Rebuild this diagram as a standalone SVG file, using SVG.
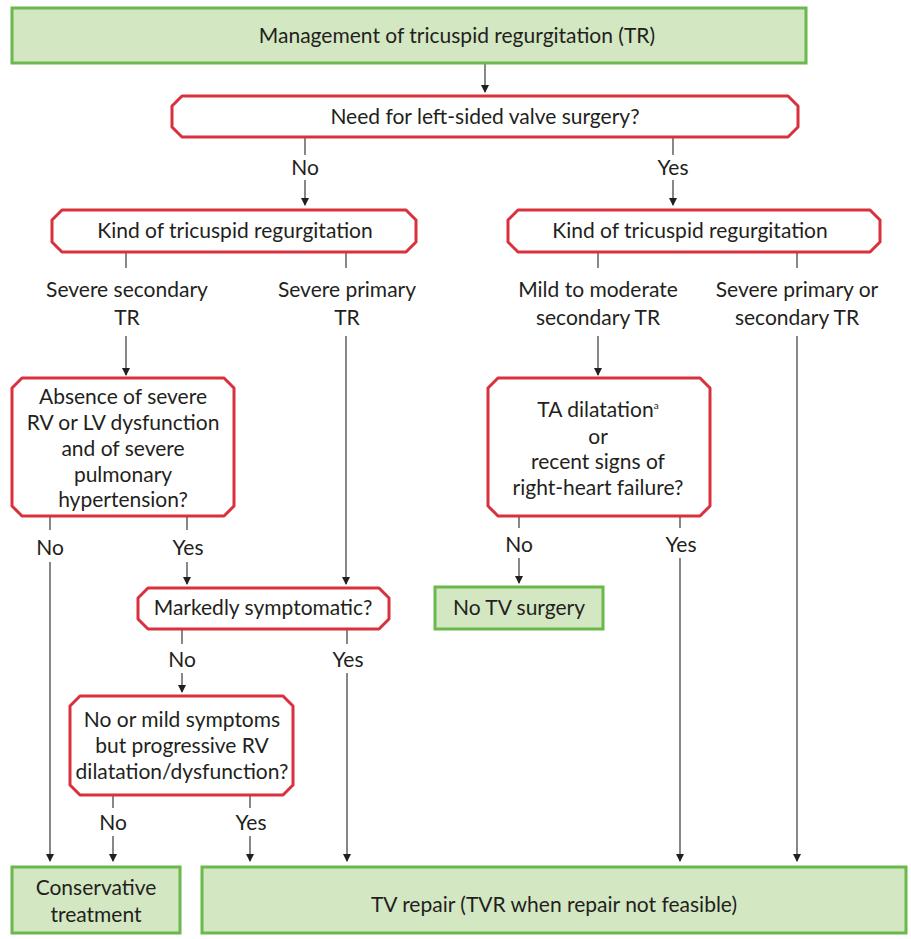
<svg xmlns="http://www.w3.org/2000/svg" width="911" height="939" viewBox="0 0 911 939">
<defs>
<marker id="ah" markerWidth="8" markerHeight="10" refX="7" refY="4" orient="auto" markerUnits="userSpaceOnUse" viewBox="0 0 8 8">
<path d="M0,0 L8,4 L0,8 Z" fill="#231f20"/>
</marker>
<style>
.g{fill:#d3e7c2;stroke:#6bb84c;stroke-width:3}
.r{fill:#fff;stroke:#d9303e;stroke-width:3;stroke-linejoin:round}
.t{font-family:Lato,"Open Sans",sans-serif;font-size:21px;fill:#231f20;text-anchor:middle}
.l{stroke:#555;stroke-width:1.4;fill:none}
.a{stroke:#555;stroke-width:1.4;fill:none;marker-end:url(#ah)}
</style>
</defs>
<rect width="911" height="939" fill="#fff"/>

<g id="connectors">
<line class="a" x1="485" y1="63" x2="485" y2="92"/>
<line class="l" x1="305" y1="138" x2="305" y2="155"/>
<line class="a" x1="305" y1="180" x2="305" y2="205"/>
<line class="l" x1="673" y1="138" x2="673" y2="155"/>
<line class="a" x1="673" y1="180" x2="673" y2="205"/>
<line class="l" x1="126" y1="252" x2="126" y2="268"/>
<line class="l" x1="346" y1="252" x2="346" y2="268"/>
<line class="l" x1="598" y1="252" x2="598" y2="268"/>
<line class="l" x1="797" y1="252" x2="797" y2="268"/>
<line class="a" x1="126" y1="336" x2="126" y2="375"/>
<line class="a" x1="346" y1="336" x2="346" y2="584"/>
<line class="a" x1="598" y1="336" x2="598" y2="375"/>
<line class="a" x1="797" y1="336" x2="797" y2="861"/>
<line class="l" x1="50" y1="517" x2="50" y2="530"/>
<line class="a" x1="50" y1="562" x2="50" y2="861"/>
<line class="l" x1="187" y1="517" x2="187" y2="530"/>
<line class="a" x1="187" y1="562" x2="187" y2="584"/>
<line class="l" x1="519" y1="517" x2="519" y2="528"/>
<line class="a" x1="519" y1="558" x2="519" y2="583"/>
<line class="l" x1="680" y1="517" x2="680" y2="528"/>
<line class="a" x1="680" y1="558" x2="680" y2="861"/>
<line class="l" x1="182" y1="630" x2="182" y2="644"/>
<line class="a" x1="182" y1="673" x2="182" y2="692"/>
<line class="l" x1="347" y1="630" x2="347" y2="644"/>
<line class="a" x1="347" y1="673" x2="347" y2="861"/>
<line class="l" x1="113" y1="796" x2="113" y2="808"/>
<line class="a" x1="113" y1="836" x2="113" y2="861"/>
<line class="l" x1="250" y1="796" x2="250" y2="808"/>
<line class="a" x1="250" y1="836" x2="250" y2="861"/>
<text class="t" x="305" y="175">No</text>
<text class="t" x="673" y="175">Yes</text>
<text class="t" x="50" y="555">No</text>
<text class="t" x="188" y="555">Yes</text>
<text class="t" x="519" y="552">No</text>
<text class="t" x="681" y="552">Yes</text>
<text class="t" x="182" y="667">No</text>
<text class="t" x="348" y="667">Yes</text>
<text class="t" x="113" y="830">No</text>
<text class="t" x="251" y="830">Yes</text>
<text class="t" x="127" y="297">Severe secondary</text>
<text class="t" x="127" y="325">TR</text>
<text class="t" x="347" y="297">Severe primary</text>
<text class="t" x="347" y="325">TR</text>
<text class="t" x="598" y="297">Mild to moderate</text>
<text class="t" x="598" y="325">secondary TR</text>
<text class="t" x="797" y="297">Severe primary or</text>
<text class="t" x="797" y="325">secondary TR</text>
</g>

<g id="n-start">
<rect class="g" x="12" y="8" width="794" height="55"/>
<text class="t" x="457" y="43">Management of tricuspid regurgitation (TR)</text>
</g>

<g id="n-need">
<polygon class="r" points="182,96 788,96 798,106 798,127 788,137 182,137 172,127 172,106"/>
<text class="t" x="485" y="124">Need for left-sided valve surgery?</text>
</g>

<g id="n-kind-left">
<polygon class="r" points="62,210 406,210 416,220 416,242 406,252 62,252 52,242 52,220"/>
<text class="t" x="235" y="238">Kind of tricuspid regurgitation</text>
</g>

<g id="n-kind-right">
<polygon class="r" points="518,210 870,210 880,220 880,242 870,252 518,252 508,242 508,220"/>
<text class="t" x="690" y="238">Kind of tricuspid regurgitation</text>
</g>

<g id="n-absence">
<polygon class="r" points="22,378 224,378 234,388 234,506 224,516 22,516 12,506 12,388"/>
<text class="t" x="123" y="404">Absence of severe</text>
<text class="t" x="123" y="430">RV or LV dysfunction</text>
<text class="t" x="123" y="456">and of severe</text>
<text class="t" x="123" y="482">pulmonary</text>
<text class="t" x="123" y="507">hypertension?</text>
</g>

<g id="n-ta">
<polygon class="r" points="498,378 700,378 710,388 710,506 700,516 498,516 488,506 488,388"/>
<text class="t" x="598" y="417">TA dilatation<tspan font-size="10" dy="-8">a</tspan></text>
<text class="t" x="598" y="444">or</text>
<text class="t" x="598" y="469">recent signs of</text>
<text class="t" x="598" y="495">right-heart failure?</text>
</g>

<g id="n-marked">
<polygon class="r" points="148,588 379,588 389,598 389,619 379,629 148,629 138,619 138,598"/>
<text class="t" x="263" y="615">Markedly symptomatic?</text>
</g>

<g id="n-notv">
<rect class="g" x="435" y="587" width="168" height="42"/>
<text class="t" x="519" y="615">No TV surgery</text>
</g>

<g id="n-mild">
<polygon class="r" points="80,696 283,696 293,706 293,785 283,795 80,795 70,785 70,706"/>
<text class="t" x="182" y="727">No or mild symptoms</text>
<text class="t" x="182" y="753">but progressive RV</text>
<text class="t" x="182" y="779">dilatation/dysfunction?</text>
</g>

<g id="n-conservative">
<rect class="g" x="12" y="867" width="168" height="66"/>
<text class="t" x="96" y="895">Conservative</text>
<text class="t" x="96" y="922">treatment</text>
</g>

<g id="n-tvrepair">
<rect class="g" x="202" y="867" width="704" height="66"/>
<text class="t" x="554" y="912">TV repair (TVR when repair not feasible)</text>
</g>
</svg>
